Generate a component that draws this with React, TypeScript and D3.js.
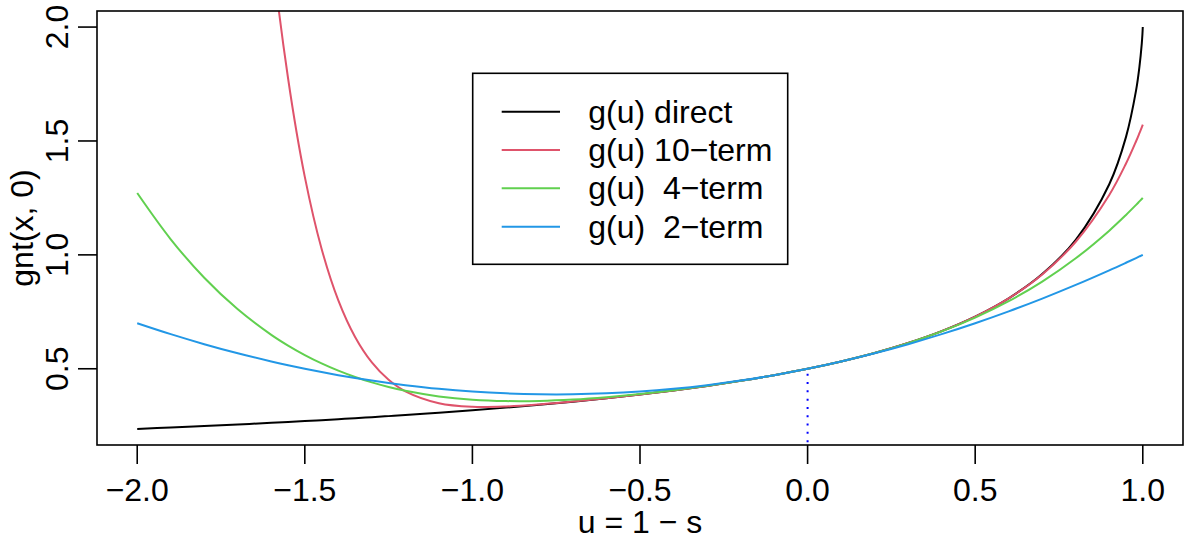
import React from "react";
import * as d3 from "d3";

// ---- data ----
const uGrid = [
  -2.0, -1.9, -1.8, -1.7, -1.6, -1.55, -1.5, -1.45, -1.4, -1.35, -1.3, -1.25, -1.2,
  -1.1, -1.0, -0.9, -0.8, -0.7, -0.6, -0.5, -0.4, -0.3, -0.2, -0.1, 0, 0.1, 0.2,
  0.3, 0.4, 0.5, 0.6, 0.7, 0.8, 0.9, 0.95, 0.98, 0.99, 0.997, 0.999, 1.0,
];

const gDirect = [
  0.2359, 0.2421, 0.2486, 0.2555, 0.2628, 0.2666, 0.2705, 0.2745, 0.2787, 0.283,
  0.2875, 0.2921, 0.2969, 0.307, 0.3178, 0.3294, 0.342, 0.3557, 0.3706, 0.387,
  0.405, 0.4248, 0.447, 0.4719, 0.5, 0.5322, 0.5693, 0.613, 0.6651, 0.7289,
  0.8094, 0.9157, 1.0661, 1.3099, 1.518, 1.7218, 1.825, 1.9274, 1.9694, 2.0,
];

const gTen = [
  21.5919, 12.7868, 7.4037, 4.2046, 2.3635, 1.7754, 1.3423, 1.0269, 0.8001, 0.6395,
  0.5277, 0.4514, 0.4007, 0.3486, 0.333, 0.3344, 0.3435, 0.3561, 0.3707, 0.387,
  0.405, 0.4248, 0.447, 0.4719, 0.5, 0.5322, 0.5693, 0.613, 0.6651, 0.7289,
  0.8092, 0.9142, 1.0576, 1.2631, 1.401, 1.4988, 1.5343, 1.5601, 1.5676, 1.5714,
];

const gFour = [
  1.2714, 1.0684, 0.8996, 0.761, 0.649, 0.6019, 0.5603, 0.5236, 0.4916, 0.4639,
  0.4402, 0.4201, 0.4033, 0.3787, 0.3643, 0.3582, 0.3587, 0.3647, 0.375, 0.3888,
  0.4056, 0.425, 0.447, 0.4719, 0.5, 0.5322, 0.5693, 0.6127, 0.6639, 0.7246,
  0.7967, 0.8827, 0.985, 1.1064, 1.1753, 1.2194, 1.2346, 1.2453, 1.2484, 1.25,
];

const gTwo = [
  0.7, 0.652, 0.608, 0.568, 0.532, 0.5155, 0.5, 0.4855, 0.472, 0.4595,
  0.448, 0.4375, 0.428, 0.412, 0.4, 0.392, 0.388, 0.388, 0.392, 0.4,
  0.412, 0.428, 0.448, 0.472, 0.5, 0.532, 0.568, 0.608, 0.652, 0.7,
  0.752, 0.808, 0.868, 0.932, 0.9655, 0.9861, 0.993, 0.9979, 0.9993, 1.0,
];

const seriesNames = ["g(u) direct", "g(u) 10\u2212term", "g(u)  4\u2212term", "g(u)  2\u2212term"];
const seriesColors = ["#000000", "#DF536B", "#61D04F", "#2297E6"];
const xTicks = [-2.0, -1.5, -1.0, -0.5, 0.0, 0.5, 1.0];
const yTicks = [0.5, 1.0, 1.5, 2.0];
const xLabel = "u = 1 \u2212 s";
const yLabel = "gnt(x, 0)";
const markerU = 0;
const markerValue = 0.5;

const W = 1188;
const H = 539;
const M = { left: 97, right: 1183, top: 11, bottom: 445 };
const FONT = "'Liberation Sans', Arial, Helvetica, sans-serif";
const FS = 32;

export default function App() {
  const [ux0, ux1] = d3.extent(uGrid) as [number, number];
  const dx = (ux1 - ux0) * 0.04;
  const [gy0, gy1] = d3.extent(gDirect) as [number, number];
  const dy = (gy1 - gy0) * 0.04;

  const x = d3.scaleLinear().domain([ux0 - dx, ux1 + dx]).range([M.left, M.right]);
  const y = d3.scaleLinear().domain([gy0 - dy, gy1 + dy]).range([M.bottom, M.top]);

  const line = d3
    .line<number>()
    .x((_, i) => x(uGrid[i]))
    .y((d) => y(d))
    .curve(d3.curveCatmullRom.alpha(0.5));

  const series = [gDirect, gTen, gFour, gTwo];
  const fmt = d3.format(".1f");
  const tickLen = 19;
  const lw = 2;

  const leg = { x: 472.7, y: 73.3, w: 315, h: 191, row0: 111.7, dy: 38.33 };

  return (
    <div style={{ position: "absolute", left: 0, top: 0 }}>
      <svg width={W} height={H} style={{ display: "block", background: "#fff" }}>
        <defs>
          <clipPath id="plotClip">
            <rect x={M.left} y={M.top} width={M.right - M.left} height={M.bottom - M.top} />
          </clipPath>
        </defs>
        <rect x={0} y={0} width={W} height={H} fill="#fff" />

        <g clipPath="url(#plotClip)">
          {series.map((s, k) => (
            <path key={k} d={line(s) || ""} fill="none" stroke={seriesColors[k]} strokeWidth={lw} />
          ))}
          <line
            x1={x(markerU)}
            x2={x(markerU)}
            y1={y(markerValue) + 5}
            y2={M.bottom + 10}
            stroke="#0000FF"
            strokeWidth={2}
            strokeDasharray="2 6.3"
          />
        </g>

        {/* box */}
        <rect
          x={M.left}
          y={M.top}
          width={M.right - M.left}
          height={M.bottom - M.top}
          fill="none"
          stroke="#000"
          strokeWidth={1.6}
        />

        {/* x axis */}
        <g fontFamily={FONT} fontSize={FS}>
          {xTicks.map((t) => (
            <g key={t}>
              <line x1={x(t)} x2={x(t)} y1={M.bottom} y2={M.bottom + tickLen} stroke="#000" strokeWidth={1.6} />
              <text x={x(t)} y={501} textAnchor="middle">
                {fmt(t)}
              </text>
            </g>
          ))}
          <text x={(M.left + M.right) / 2} y={533} textAnchor="middle">
            {xLabel}
          </text>
        </g>

        {/* y axis */}
        <g fontFamily={FONT} fontSize={FS}>
          {yTicks.map((t) => (
            <g key={t}>
              <line x1={M.left - tickLen} x2={M.left} y1={y(t)} y2={y(t)} stroke="#000" strokeWidth={1.6} />
              <text transform={`translate(68, ${y(t)}) rotate(-90)`} textAnchor="middle">
                {fmt(t)}
              </text>
            </g>
          ))}
          <text transform={`translate(33, ${(M.top + M.bottom) / 2}) rotate(-90)`} textAnchor="middle">
            {yLabel}
          </text>
        </g>

        {/* legend */}
        <g fontFamily={FONT} fontSize={FS}>
          <rect x={leg.x} y={leg.y} width={leg.w} height={leg.h} fill="#fff" stroke="#000" strokeWidth={1.6} />
          {seriesNames.map((name, k) => {
            const ry = leg.row0 + k * leg.dy;
            return (
              <g key={name}>
                <line x1={501.7} x2={560} y1={ry} y2={ry} stroke={seriesColors[k]} strokeWidth={lw} />
                <text x={588.3} y={ry + 11} style={{ whiteSpace: "pre" }}>
                  {name}
                </text>
              </g>
            );
          })}
        </g>
      </svg>
    </div>
  );
}
